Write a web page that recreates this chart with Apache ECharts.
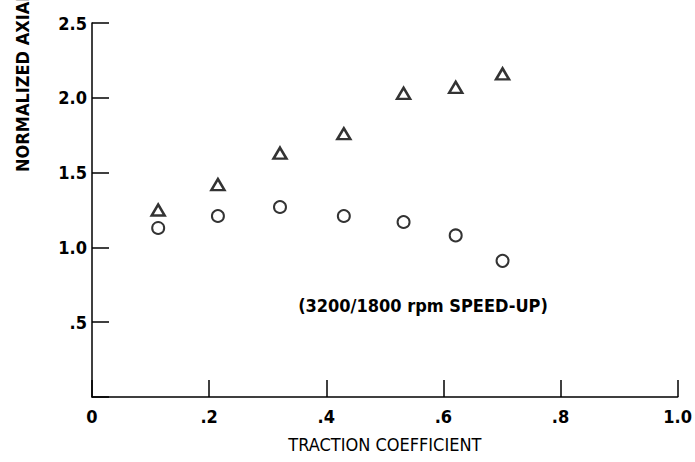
<!DOCTYPE html>
<html>
<head>
<meta charset="utf-8">
<script src="https://cdn.jsdelivr.net/npm/echarts@6/dist/echarts.min.js"></script>
<style>
html,body{margin:0;padding:0;background:#fff;}
#chart{width:695px;height:462px;}
</style>
</head>
<body>
<div id="chart"></div>
<script>
// Data
const tractionCoeff = [0.113, 0.215, 0.321, 0.43, 0.532, 0.621, 0.701];
const triangleVals = [1.25, 1.42, 1.63, 1.76, 2.03, 2.07, 2.16];
const circleVals = [1.13, 1.21, 1.27, 1.21, 1.17, 1.08, 0.91];
const xTickLabels = ['0', '.2', '.4', '.6', '.8', '1.0'];
const yTickLabels = ['', '.5', '1.0', '1.5', '2.0', '2.5'];
const xTitle = 'TRACTION COEFFICIENT';
const yTitle = 'NORMALIZED AXIAL LOAD';
const noteText = '(3200/1800 rpm SPEED-UP)';

const FONT = "'DejaVu Sans Condensed', 'Liberation Sans Narrow', 'Roboto Condensed', 'DejaVu Sans', sans-serif";
const INK = '#000';

const chart = echarts.init(document.getElementById('chart'), null, {renderer: 'svg'});

function pairs(xs, ys) { return xs.map((x, i) => [x, ys[i]]); }

chart.setOption({
  backgroundColor: '#fff',
  animation: false,
  grid: {left: 92, right: 17, top: 23, bottom: 65, containLabel: false},
  xAxis: {
    type: 'value', min: 0, max: 1, interval: 0.2,
    name: xTitle, nameLocation: 'middle', nameGap: 38,
    nameTextStyle: {fontFamily: FONT, fontSize: 18, color: INK},
    axisLine: {show: true, lineStyle: {color: INK, width: 1.5}},
    axisTick: {show: true, inside: true, length: 17, lineStyle: {color: INK, width: 1.5}},
    axisLabel: {
      margin: 10, fontFamily: FONT, fontSize: 18, fontWeight: 'bold', color: INK,
      formatter: v => xTickLabels[Math.round(v / 0.2)]
    },
    splitLine: {show: false}
  },
  yAxis: {
    type: 'value', min: 0, max: 2.5, interval: 0.5,
    axisLine: {show: true, lineStyle: {color: INK, width: 1.5}},
    axisTick: {show: true, inside: true, length: 17, lineStyle: {color: INK, width: 1.5}},
    axisLabel: {
      margin: 5, fontFamily: FONT, fontSize: 18, fontWeight: 'bold', color: INK,
      formatter: v => yTickLabels[Math.round(v / 0.5)]
    },
    splitLine: {show: false}
  },
  series: [
    {
      type: 'scatter', name: 'triangle',
      data: pairs(tractionCoeff, triangleVals),
      symbol: 'triangle', symbolSize: [13, 11],
      itemStyle: {color: '#fff', borderColor: INK, borderWidth: 2.5}
    },
    {
      type: 'scatter', name: 'circle',
      data: pairs(tractionCoeff, circleVals),
      symbol: 'circle', symbolSize: 12,
      itemStyle: {color: '#fff', borderColor: INK, borderWidth: 2}
    }
  ],
  graphic: [
    {
      type: 'text', x: 22, y: 172, rotation: Math.PI / 2,
      style: {text: yTitle, fontFamily: FONT, fontSize: 18, fontWeight: 'bold', fill: INK,
              textAlign: 'left', textVerticalAlign: 'middle'}
    },
    {
      type: 'text', x: 423, y: 305,
      style: {text: noteText, fontFamily: FONT, fontSize: 18, fontWeight: 'bold', fill: INK,
              textAlign: 'center', textVerticalAlign: 'middle'}
    }
  ]
});
</script>
</body>
</html>
